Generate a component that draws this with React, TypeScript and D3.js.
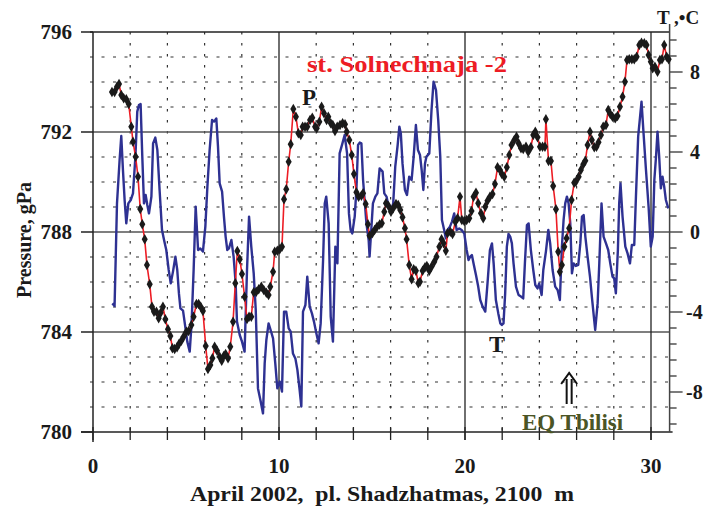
import React from 'react';
import * as d3 from 'd3';

// pressure at st. Solnechnaja-2, [day of April, gPa]
const pressure: [number, number][] = [
  [1.02, 793.6], [1.16, 793.6], [1.29, 793.81], [1.4, 793.92], [1.52, 793.48], [1.65, 793.35], [1.79, 793.31], [1.92, 793.12],
  [2.06, 792.21], [2.15, 791.61], [2.29, 791.01], [2.42, 790.21], [2.54, 788.92], [2.65, 788.31], [2.78, 787.71], [2.9, 786.68],
  [3.05, 785.91], [3.17, 785.01], [3.28, 784.81], [3.41, 784.81], [3.53, 784.55], [3.64, 784.77], [3.76, 785.01], [3.89, 784.51],
  [4.03, 784.11], [4.16, 783.84], [4.27, 783.35], [4.39, 783.32], [4.52, 783.39], [4.62, 783.52], [4.75, 783.65], [4.87, 783.81],
  [5.02, 784.01], [5.14, 784.04], [5.29, 784.28], [5.41, 784.61], [5.56, 785.12], [5.68, 785.12], [5.79, 785.01], [5.91, 784.84],
  [6.06, 783.44], [6.18, 782.52], [6.31, 782.68], [6.42, 782.95], [6.54, 783.41], [6.67, 783.25], [6.81, 783.01], [6.92, 782.85],
  [7.03, 783.04], [7.13, 783.12], [7.26, 782.95], [7.38, 783.41], [7.53, 784.41], [7.65, 785.95], [7.76, 787.24], [7.89, 786.91],
  [8.01, 786.32], [8.15, 785.41], [8.28, 784.52], [8.39, 784.61], [8.51, 784.61], [8.64, 785.59], [8.78, 785.61], [8.91, 785.71],
  [9.05, 785.81], [9.18, 785.68], [9.32, 785.57], [9.44, 785.48], [9.53, 785.81], [9.68, 786.41], [9.77, 787.21], [9.91, 787.25],
  [10.04, 787.31], [10.16, 787.41], [10.27, 789.31], [10.39, 789.71], [10.52, 790.81], [10.63, 791.51], [10.77, 792.92], [10.91, 792.61],
  [11.04, 791.95], [11.17, 791.88], [11.27, 792.21], [11.4, 792.21], [11.52, 792.21], [11.67, 792.48], [11.79, 792.57], [11.94, 792.21],
  [12.03, 792.15], [12.17, 792.41], [12.29, 793.01], [12.42, 792.75], [12.56, 792.48], [12.65, 792.61], [12.78, 792.35], [12.89, 792.28],
  [13.01, 792.04], [13.13, 792.21], [13.28, 792.28], [13.42, 792.35], [13.55, 792.31], [13.64, 792.01], [13.78, 791.68], [13.91, 791.08],
  [14.03, 790.32], [14.16, 789.59], [14.28, 789.41], [14.43, 789.45], [14.52, 789.55], [14.66, 789.12], [14.78, 788.31], [14.87, 787.85],
  [15.02, 787.95], [15.14, 788.08], [15.27, 788.21], [15.41, 788.3], [15.53, 788.35], [15.66, 788.81], [15.75, 789.15], [15.89, 789.04],
  [16.02, 788.81], [16.14, 788.95], [16.29, 789.12], [16.41, 789.08], [16.52, 788.88], [16.64, 788.59], [16.77, 788.15], [16.86, 787.71],
  [17.0, 786.68], [17.13, 786.11], [17.24, 786.51], [17.36, 786.45], [17.49, 785.95], [17.58, 786.01], [17.72, 786.45], [17.85, 786.59],
  [17.95, 786.64], [18.08, 786.45], [18.2, 786.61], [18.35, 786.81], [18.47, 787.01], [18.62, 787.41], [18.74, 787.71], [18.85, 787.55],
  [18.97, 787.25], [19.06, 787.95], [19.21, 788.01], [19.33, 787.92], [19.48, 788.41], [19.6, 788.55], [19.73, 789.41], [19.83, 788.48],
  [19.96, 788.44], [20.09, 788.48], [20.23, 788.55], [20.35, 788.84], [20.46, 789.41], [20.59, 789.57], [20.71, 789.15], [20.86, 788.75],
  [20.98, 788.55], [21.09, 789.01], [21.21, 789.25], [21.34, 789.41], [21.48, 789.52], [21.61, 789.92], [21.75, 790.59], [21.88, 790.48],
  [21.98, 790.32], [22.11, 790.21], [22.25, 790.59], [22.38, 791.08], [22.5, 791.48], [22.65, 791.68], [22.77, 791.81], [22.88, 791.55],
  [23.01, 791.35], [23.13, 791.32], [23.28, 791.41], [23.4, 791.21], [23.54, 791.39], [23.67, 791.88], [23.78, 792.01], [23.9, 791.79],
  [24.03, 791.41], [24.17, 791.41], [24.3, 791.41], [24.35, 792.51], [24.49, 790.84], [24.62, 790.84], [24.74, 789.84], [24.89, 788.91],
  [25.01, 787.21], [25.1, 786.41], [25.21, 786.68], [25.34, 787.41], [25.46, 787.75], [25.6, 788.15], [25.73, 789.28], [25.87, 789.97],
  [25.96, 790.01], [26.11, 790.21], [26.23, 790.48], [26.36, 790.71], [26.47, 790.85], [26.59, 791.48], [26.72, 792.01], [26.82, 791.68],
  [26.95, 791.39], [27.07, 791.41], [27.18, 791.59], [27.31, 791.88], [27.43, 792.21], [27.58, 792.28], [27.7, 792.88], [27.81, 792.72],
  [27.93, 792.61], [28.08, 792.55], [28.2, 792.64], [28.33, 793.01], [28.47, 793.41], [28.6, 794.01], [28.71, 794.88], [28.83, 794.91],
  [28.97, 794.91], [29.1, 794.91], [29.23, 795.01], [29.37, 795.48], [29.49, 795.57], [29.64, 795.55], [29.76, 795.48], [29.87, 795.08],
  [29.99, 794.81], [30.09, 794.55], [30.21, 794.61], [30.35, 794.41], [30.48, 794.88], [30.59, 794.91], [30.71, 795.48], [30.84, 795.01],
  [30.95, 794.91],
];

// air temperature, [day of April, °C]
const temperature: [number, number][] = [
  [1.04, -3.57], [1.16, -3.7], [1.29, 1.43], [1.43, 3.6], [1.52, 4.8], [1.61, 3.1], [1.7, 1.6], [1.79, 0.43], [1.9, 1.43], [2.03, 1.6],
  [2.15, 1.93], [2.28, 3.77], [2.38, 6.02], [2.47, 6.35], [2.56, 6.4], [2.65, 3.77], [2.74, 1.43], [2.83, 1.85], [2.92, 1.35], [3.01, 0.93],
  [3.14, 1.77], [3.23, 4.43], [3.35, 4.72], [3.46, 4.1], [3.58, 2.1], [3.71, 0.1], [3.82, -0.4], [3.94, -0.9], [4.07, -1.9], [4.18, -2.57],
  [4.3, -1.98], [4.43, -1.23], [4.53, -1.9], [4.62, -3.07], [4.7, -3.82], [4.84, -3.93], [4.96, -4.73], [5.07, -5.48], [5.2, -5.98], [5.3, -4.57],
  [5.41, -1.9], [5.52, 1.27], [5.65, -0.9], [5.77, -0.82], [5.91, -0.98], [6.04, 0.27], [6.15, 2.27], [6.27, 4.1], [6.4, 5.6], [6.51, 5.52],
  [6.63, 5.68], [6.72, 4.27], [6.81, 2.43], [6.94, 2.02], [7.04, 0.77], [7.13, -0.23], [7.22, -0.9], [7.31, -0.82], [7.44, -0.4], [7.56, -1.23],
  [7.67, -2.57], [7.74, -4.48], [7.89, -5.15], [8.01, -5.48], [8.15, -5.98], [8.28, -1.9], [8.39, 0.77], [8.51, -0.73], [8.64, -2.07], [8.75, -3.9],
  [8.87, -7.82], [9.0, -8.4], [9.14, -9.07], [9.23, -6.57], [9.32, -5.4], [9.44, -4.57], [9.55, -4.9], [9.68, -5.32], [9.8, -6.57], [9.91, -7.82],
  [10.04, -7.48], [10.16, -7.98], [10.27, -3.98], [10.39, -3.98], [10.52, -4.82], [10.63, -4.98], [10.75, -6.07], [10.88, -6.32], [10.99, -6.9], [11.11, -7.9],
  [11.2, -8.73], [11.29, -3.98], [11.42, -3.65], [11.52, -2.23], [11.65, -3.73], [11.77, -4.07], [11.88, -4.48], [12.01, -5.07], [12.13, -5.57], [12.24, -4.57],
  [12.37, -1.4], [12.46, 1.43], [12.54, 1.77], [12.67, 0.43], [12.78, -4.23], [12.9, -5.48], [13.03, -0.73], [13.14, -1.57], [13.26, 3.93], [13.41, 4.43],
  [13.53, 4.85], [13.66, 3.93], [13.76, 0.93], [13.85, 0.1], [13.94, -0.07], [14.07, 0.77], [14.16, 2.1], [14.25, 4.35], [14.34, 4.47], [14.43, 4.43],
  [14.52, 2.6], [14.7, 0.43], [14.82, -0.4], [14.87, -1.23], [14.96, 0.1], [15.05, 1.43], [15.18, 1.77], [15.29, 1.93], [15.41, 3.18], [15.57, 3.02],
  [15.66, 1.93], [15.78, 1.77], [15.89, 1.27], [16.02, 1.02], [16.14, 1.43], [16.25, 3.27], [16.38, 4.35], [16.47, 5.27], [16.55, 4.93], [16.64, 3.43],
  [16.77, 2.1], [16.88, 1.85], [17.0, 2.77], [17.13, 2.6], [17.24, 3.77], [17.36, 5.35], [17.47, 4.1], [17.58, 3.85], [17.67, 3.1], [17.76, 2.1],
  [17.85, 3.43], [17.93, 3.77], [18.08, 3.93], [18.2, 6.1], [18.31, 7.52], [18.44, 7.1], [18.56, 5.6], [18.67, 3.77], [18.76, 0.6], [18.88, 0.1],
  [18.97, -0.32], [19.06, 0.1], [19.19, 0.27], [19.3, 0.52], [19.42, 0.93], [19.55, 0.1], [19.69, 0.18], [19.82, 0.1], [19.96, -0.07], [20.09, -0.9],
  [20.19, -1.4], [20.28, -1.23], [20.37, -1.15], [20.46, -1.57], [20.59, -2.15], [20.71, -2.73], [20.82, -3.4], [20.95, -3.73], [21.09, -3.98], [21.21, -2.57],
  [21.34, -0.9], [21.45, -0.57], [21.54, -1.57], [21.66, -3.4], [21.79, -4.07], [21.9, -4.57], [21.98, -4.65], [22.07, -4.57], [22.16, -3.07], [22.25, -0.73],
  [22.34, -0.1], [22.43, -0.23], [22.52, -0.57], [22.61, -1.57], [22.74, -2.73], [22.88, -3.15], [23.01, -3.23], [23.13, -3.32], [23.22, -1.57], [23.33, 0.35],
  [23.42, 0.43], [23.54, -0.9], [23.67, -1.9], [23.78, -2.65], [23.9, -2.82], [23.99, -2.57], [24.12, -3.15], [24.21, -1.9], [24.35, -0.98], [24.48, 0.1],
  [24.58, -0.57], [24.71, -1.9], [24.85, -2.73], [24.98, -2.9], [25.1, -3.4], [25.21, -0.73], [25.3, 0.6], [25.39, 1.43], [25.48, 1.77], [25.57, 1.43],
  [25.66, 0.43], [25.75, -2.07], [25.84, -1.57], [25.96, -1.7], [26.09, -1.65], [26.2, -0.57], [26.29, 0.77], [26.38, 0.85], [26.47, -0.23], [26.59, -1.23],
  [26.72, -2.23], [26.82, -3.23], [26.91, -4.07], [27.0, -4.9], [27.13, -3.57], [27.22, -1.57], [27.34, 1.43], [27.45, -0.23], [27.58, -0.57], [27.7, -0.9],
  [27.81, -1.57], [27.93, -2.23], [28.02, -2.32], [28.11, -3.07], [28.22, -0.9], [28.29, 1.43], [28.36, 2.43], [28.47, 0.77], [28.62, -0.73], [28.74, -1.07],
  [28.87, -1.57], [28.97, -0.65], [29.1, -0.65], [29.19, 1.77], [29.31, 4.77], [29.49, 6.52], [29.6, 4.93], [29.73, 3.1], [29.87, 1.27], [29.99, -0.73],
  [30.09, -0.23], [30.18, 2.6], [30.27, 3.77], [30.35, 5.02], [30.44, 3.77], [30.53, 2.18], [30.62, 2.77], [30.71, 2.27], [30.8, 1.6], [30.93, 1.18],
];

const dayTicks = [0, 10, 20, 30];
const pressureTicks = [780, 784, 788, 792, 796];
const tempTicks = [-8, -4, 0, 4, 8];
const eqDay = 25.6; // EQ Tbilisi, 25 April

const W = 709;
const H = 509;
const font = '"Liberation Serif", "Times New Roman", serif';

const App: React.FC = () => {
  const x = d3.scaleLinear().domain([0, 31]).range([93, 669.6]);
  const yP = d3.scaleLinear().domain([780, 796]).range([432, 32]);
  const yT = d3.scaleLinear().domain([-10, 10]).range([432, 32]);
  const left = x(0);
  const right = x(31);
  const top = yP(796);
  const bottom = yP(780);

  const pLine = d3
    .line<[number, number]>()
    .x((d) => x(d[0]))
    .y((d) => yP(d[1]));
  const tLine = d3
    .line<[number, number]>()
    .x((d) => x(d[0]))
    .y((d) => yT(d[1]));
  const diamond = d3.symbol(d3.symbolDiamond, 32)();

  const minorDays = d3.range(2, 31, 2).filter((d) => d % 10 !== 0);
  const minorP = d3.range(781, 796).filter((p) => p % 4 !== 0);
  const majorP = [784, 788, 792];
  const tMinor = d3.range(-9.6, 10, 0.8).map((v) => Math.round(v * 10) / 10);
  const ax = x(eqDay);

  return (
    <svg width={W} height={H} style={{ position: 'absolute', left: 0, top: 0, background: '#fff' }}>
      {/* dotted / dashed grid */}
      {minorDays.map((d) => (
        <line key={'vd' + d} x1={x(d)} x2={x(d)} y1={top} y2={bottom} stroke="#333" strokeWidth={1.2} strokeDasharray="2.5 8.5" />
      ))}
      {minorP.map((p) => (
        <line key={'hd' + p} x1={left - 3} x2={right} y1={yP(p)} y2={yP(p)} stroke="#333" strokeWidth={1.2} strokeDasharray="3 8.5" />
      ))}
      {majorP.map((p) => (
        <line key={'hs' + p} x1={left} x2={right} y1={yP(p)} y2={yP(p)} stroke="#555" strokeWidth={1.5} />
      ))}
      {dayTicks.slice(1).map((d) => (
        <line key={'vs' + d} x1={x(d)} x2={x(d)} y1={top} y2={bottom + 8} stroke="#222" strokeWidth={1.3} />
      ))}

      {/* frame */}
      <line x1={left - 3} x2={right} y1={top} y2={top} stroke="#222" strokeWidth={1.5} />
      <line x1={left - 12} x2={right + 3} y1={bottom} y2={bottom} stroke="#222" strokeWidth={1.5} />
      <line x1={left} x2={left} y1={top} y2={bottom + 10} stroke="#222" strokeWidth={1.5} />
      <line x1={right} x2={right} y1={top - 8} y2={bottom} stroke="#444" strokeWidth={1.5} />

      {/* bottom ticks */}
      {d3.range(0, 31, 2).map((d) => (
        <line key={'bt' + d} x1={x(d)} x2={x(d)} y1={bottom - 5} y2={bottom + 8} stroke="#222" strokeWidth={1.3} />
      ))}
      {/* left ticks */}
      {pressureTicks.map((p) => (
        <line key={'lt' + p} x1={left - 12} x2={left} y1={yP(p)} y2={yP(p)} stroke="#222" strokeWidth={1.5} />
      ))}
      {/* right ticks */}
      {tMinor.map((t) => (
        <line key={'rt' + t} x1={right} x2={right + (t % 4 === 0 ? 13 : 7)} y1={yT(t)} y2={yT(t)} stroke="#444" strokeWidth={1.4} />
      ))}

      {/* temperature */}
      <path d={tLine(temperature) || ''} fill="none" stroke="#2e3192" strokeWidth={2.4} strokeLinejoin="round" />
      {/* pressure */}
      <path d={pLine(pressure) || ''} fill="none" stroke="#ed1c24" strokeWidth={1.6} />
      {pressure.map((d, i) => (
        <path key={'m' + i} d={diamond || ''} transform={`translate(${x(d[0])},${yP(d[1])})`} fill="#1a1a1a" />
      ))}

      {/* axis labels */}
      <g fontFamily={font} fontWeight="bold" fill="#1a1a1a">
        {pressureTicks.map((p) => (
          <text key={'pl' + p} x={72} y={yP(p) + 7} fontSize={21} textAnchor="end">
            {p}
          </text>
        ))}
        {dayTicks.map((d) => (
          <text key={'dl' + d} x={x(d)} y={473} fontSize={21} textAnchor="middle">
            {d}
          </text>
        ))}
        {tempTicks.map((t) => (
          <text key={'tl' + t} x={t < 0 ? 686 : 690} y={yT(t) + 7} fontSize={20}>
            {t}
          </text>
        ))}
        <text x={657} y={24} fontSize={19}>
          T ,•C
        </text>
        <text x={382} y={501} fontSize={21} textAnchor="middle" xmlSpace="preserve" textLength={384} lengthAdjust="spacingAndGlyphs">
          April 2002,  pl. Shadzhatmas, 2100  m
        </text>
        <text transform="translate(31,240) rotate(-90)" fontSize={20} textAnchor="middle">
          Pressure, gPa
        </text>
        <text x={302} y={105} fontSize={23}>
          P
        </text>
        <text x={489} y={352} fontSize={24}>
          T
        </text>
      </g>

      <text x={307} y={72} fontFamily={font} fontWeight="bold" fontSize={24} fill="#ed1c24" textLength={200} lengthAdjust="spacingAndGlyphs">
        st. Solnechnaja -2
      </text>

      {/* EQ marker */}
      <g stroke="#111" strokeWidth={2} fill="none">
        <line x1={ax - 2.5} x2={ax - 2.5} y1={379} y2={404} />
        <line x1={ax + 2.5} x2={ax + 2.5} y1={379} y2={404} />
        <path d={`M${ax - 8},${384} L${ax},${373} L${ax + 8},${384}`} />
      </g>
      <text x={522} y={430} fontFamily={font} fontWeight="bold" fontSize={23} fill="#4b5525">
        EQ Tbilisi
      </text>
    </svg>
  );
};

export default App;
